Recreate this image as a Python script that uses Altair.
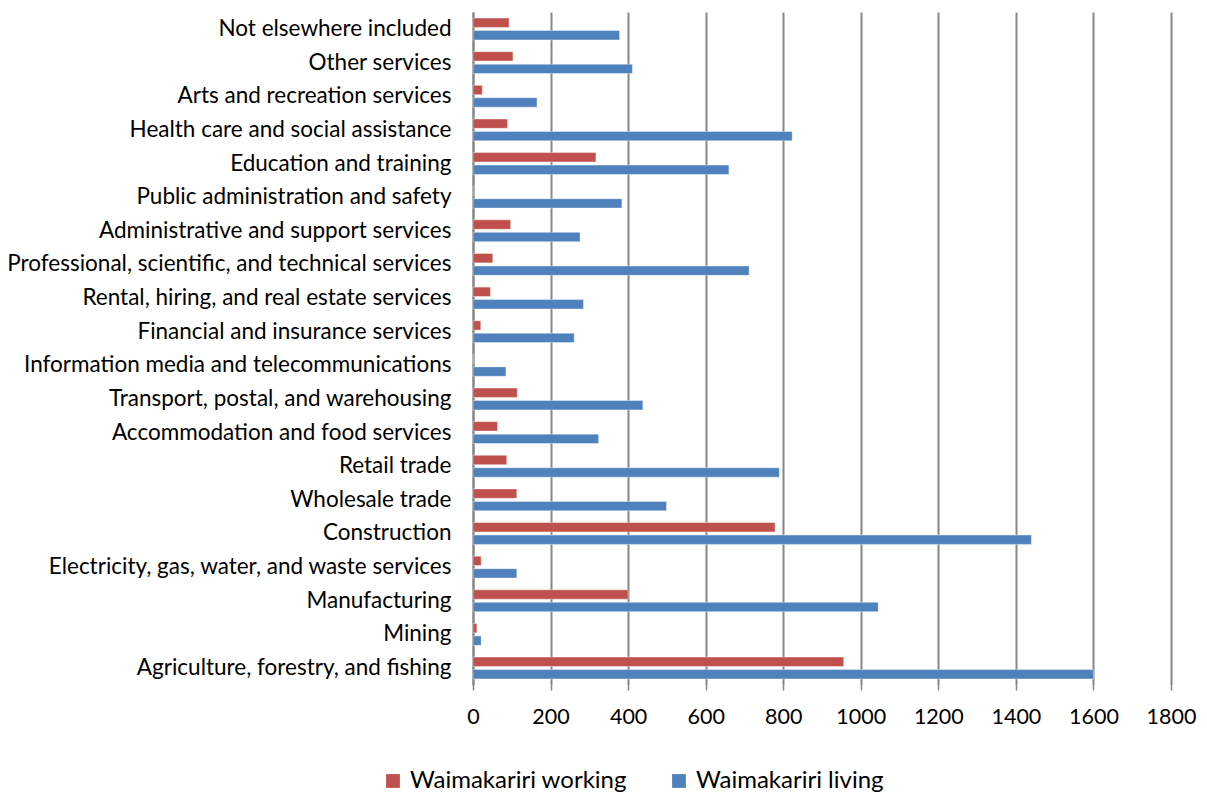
import altair as alt
import pandas as pd

categories = [
    "Not elsewhere included",
    "Other services",
    "Arts and recreation services",
    "Health care and social assistance",
    "Education and training",
    "Public administration and safety",
    "Administrative and support services",
    "Professional, scientific, and technical services",
    "Rental, hiring, and real estate services",
    "Financial and insurance services",
    "Information media and telecommunications",
    "Transport, postal, and warehousing",
    "Accommodation and food services",
    "Retail trade",
    "Wholesale trade",
    "Construction",
    "Electricity, gas, water, and waste services",
    "Manufacturing",
    "Mining",
    "Agriculture, forestry, and fishing",
]
working = [93, 103, 24, 89, 317, 3, 97, 51, 45, 20, 2, 114, 63, 87, 113, 779, 21, 400, 10, 956]
living = [378, 411, 165, 823, 660, 384, 276, 712, 285, 261, 85, 438, 324, 790, 499, 1440, 113, 1045, 21, 1600]
series = ["Waimakariri working", "Waimakariri living"]
colors = ["#C0504D", "#4F81BD"]
x_ticks = [0, 200, 400, 600, 800, 1000, 1200, 1400, 1600, 1800]

rows = []
for c, w, l in zip(categories, working, living):
    rows.append({"category": c, "series": series[0], "value": w})
    rows.append({"category": c, "series": series[1], "value": l})
df = pd.DataFrame(rows)

FONT = "Lato"

chart = alt.Chart(df).mark_bar(stroke="white", strokeOpacity=0.5, strokeWidth=0.8).encode(
    y=alt.Y("category:N", sort=categories, title=None,
            scale=alt.Scale(paddingInner=0.35, paddingOuter=0.18),
            axis=alt.Axis(ticks=False, labelFont=FONT, labelFontSize=22.5, labelColor="#000000",
                          labelLimit=600, labelPadding=22, domainColor="#868686", domainWidth=2,
                          grid=False)),
    yOffset=alt.YOffset("series:N", sort=series, scale=alt.Scale(paddingInner=0.25)),
    x=alt.X("value:Q", title=None,
            scale=alt.Scale(domain=[0, 1800], nice=False),
            axis=alt.Axis(values=x_ticks, format="d", grid=True, gridColor="#868686", gridWidth=2,
                          domain=False, tickColor="#868686", tickSize=5, tickWidth=1.5,
                          labelOverlap=False, labelFlush=False,
                          labelFont=FONT, labelFontSize=21.5, labelColor="#000000",
                          labelPadding=16)),
    color=alt.Color("series:N", sort=series, title=None,
                    scale=alt.Scale(domain=series, range=colors),
                    legend=alt.Legend(orient="none", legendX=-92, legendY=757, direction="horizontal",
                                      symbolType="square", symbolSize=190, symbolStrokeWidth=0,
                                      labelFont=FONT, labelFontSize=24, labelColor="#000000",
                                      columnPadding=40, labelLimit=400, labelOffset=5)),
).properties(
    width=698,
    height=673,
    background="white",
    padding={"left": 465, "top": 4, "right": 26, "bottom": 110},
    autosize=alt.AutoSizeParams(type="none"),
).configure_view(strokeWidth=0, stroke="transparent")

chart.save("out.html", embed_options={"renderer": "svg", "actions": False})
